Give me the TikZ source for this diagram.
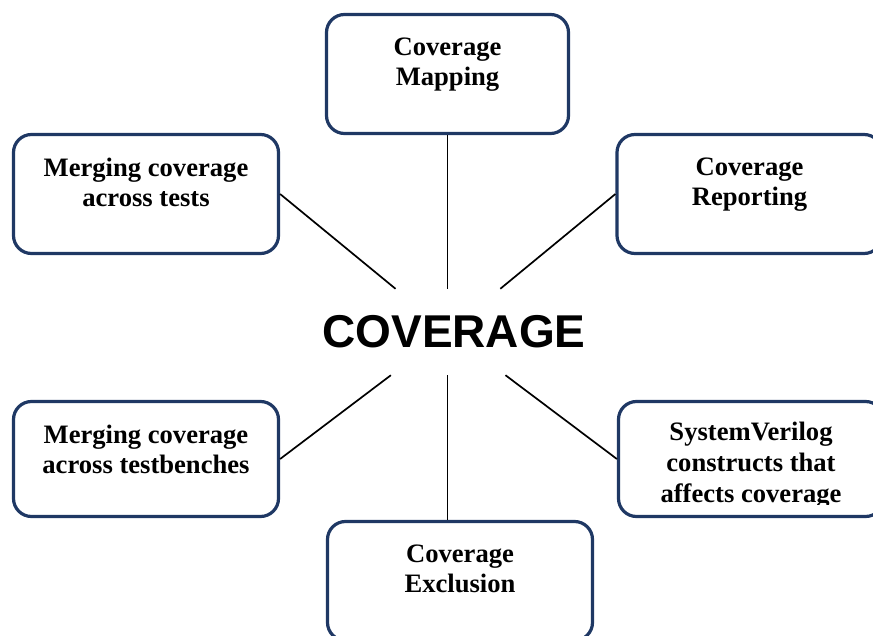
\documentclass[tikz,border=0pt]{standalone}
\usepackage{fontspec}
\setmainfont{Liberation Serif}
\newfontfamily\hubfont{Liberation Sans}
\definecolor{boxnavy}{RGB}{31,56,100}
\begin{document}
\begin{tikzpicture}[x=1pt,y=-1pt,
  topic/.style={draw=boxnavy, line width=3.2pt, rounded corners=18pt,
    minimum width=265pt, minimum height=119pt, inner sep=0pt, fill=white},
  topictext/.style={anchor=north, inner sep=0pt, align=center,
    font=\bfseries\fontsize{26.6}{30.5}\selectfont},
  link/.style={draw=black, line width=1.7pt},
  hubnode/.style={rectangle, inner sep=0pt, minimum height=86pt,
    font=\hubfont\bfseries\fontsize{46}{50}\selectfont}]
\useasboundingbox (0,0) rectangle (873,636);

% central keyword; its (invisible) frame trims the spokes
\node[hubnode] (hub) at (448,332) {\hspace*{12pt}COVERAGE};

% surrounding topic boxes
\node[topic, minimum width=242pt] (map) at (447.5,74) {};
\node[topic] (mergetests) at (146,194) {};
\node[topic] (report) at (749.5,194) {};
\node[topic, minimum height=115pt] (mergetb) at (146,459) {};
\node[topic, minimum height=115pt] (svcons) at (751,459) {};
\node[topic] (excl) at (460,581) {};

% box captions
\node[topictext] (mapt) at ([yshift=-24.5pt]map.north) {Coverage\\Mapping};
\node[topictext] (mergetestst) at ([yshift=-24.5pt]mergetests.north) {Merging coverage\\across tests};
\node[topictext] (reportt) at ([yshift=-24.5pt]report.north) {Coverage\\Reporting};
\node[topictext] (mergetbt) at ([yshift=-24.5pt]mergetb.north) {Merging coverage\\across testbenches};
\node[topictext] (exclt) at ([yshift=-24.5pt]excl.north) {Coverage\\Exclusion};
\begin{scope}
  \clip (600,390) rectangle (873,504);
  \node[topictext, font=\bfseries\fontsize{26.6}{31}\selectfont] (svconst)
    at ([yshift=-22pt]svcons.north) {SystemVerilog\\constructs that\\affects coverage};
\end{scope}

% spokes
\draw[link] (map.south) -- (map.south |- hub.north);
\draw[link] (hub.south -| map.south) -- (excl.north -| map.south);
\draw[link] (mergetests.east) -- (hub);
\draw[link] (report.west) -- (hub);
\draw[link] (mergetb.east) -- (hub);
\draw[link] (svcons.west) -- (hub);
\end{tikzpicture}
\end{document}
